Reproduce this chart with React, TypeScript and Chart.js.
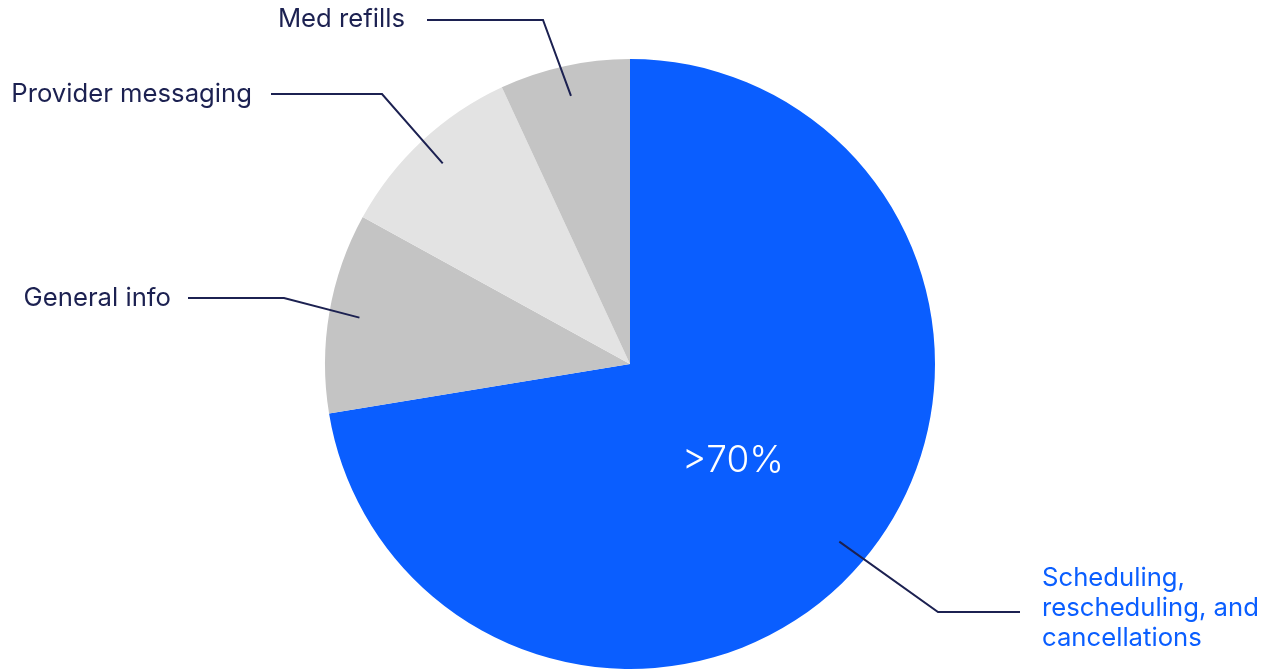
import React, { useEffect, useRef } from "react";
import { Chart, registerables } from "chart.js";

Chart.register(...registerables);

const categories = [
  "Scheduling, rescheduling, and cancellations",
  "General info",
  "Provider messaging",
  "Med refills",
];
const shares = [72.4, 10.6, 10.1, 6.9];
const centerLabel = ">70%";

const sliceColors = ["#0A5EFF", "#C4C4C4", "#E3E3E3", "#C4C4C4"];
const NAVY = "#1C2151";
const BLUE = "#0A5EFF";
const FONT = "Inter, 'DejaVu Sans', sans-serif";

// label layout: elbow point, line end point, text anchor, alignment, lines
const labelLayout = [
  { elbow: [938, 612], end: [1020, 612], text: [1042, 608], align: "left", lines: ["Scheduling,", "rescheduling, and", "cancellations"], color: BLUE },
  { elbow: [284, 298], end: [188, 298], text: [171, 298], align: "right", lines: ["General info"], color: NAVY },
  { elbow: [382, 94], end: [271, 94], text: [252, 94], align: "right", lines: ["Provider messaging"], color: NAVY },
  { elbow: [543, 20], end: [427, 20], text: [405, 19], align: "right", lines: ["Med refills"], color: NAVY },
];

const leaderPlugin = {
  id: "leaders",
  afterDraw(chart: any) {
    const ctx = chart.ctx;
    const meta = chart.getDatasetMeta(0);
    ctx.save();
    meta.data.forEach((arc: any, i: number) => {
      const p = arc.getProps(["x", "y", "startAngle", "endAngle", "outerRadius"], true);
      const mid = (p.startAngle + p.endAngle) / 2;
      const r = p.outerRadius * 0.9;
      const ax = p.x + Math.cos(mid) * r;
      const ay = p.y + Math.sin(mid) * r;
      const L = labelLayout[i];
      ctx.strokeStyle = NAVY;
      ctx.lineWidth = 2;
      ctx.beginPath();
      ctx.moveTo(ax, ay);
      ctx.lineTo(L.elbow[0], L.elbow[1]);
      ctx.lineTo(L.end[0], L.end[1]);
      ctx.stroke();
      ctx.fillStyle = L.color;
      ctx.font = `25.7px ${FONT}`;
      ctx.textAlign = L.align;
      ctx.textBaseline = "middle";
      const lh = 30;
      const n = L.lines.length;
      L.lines.forEach((t: string, k: number) => {
        ctx.fillText(t, L.text[0], L.text[1] + (k - (n - 1) / 2) * lh);
      });
      if (i === 0) {
        ctx.fillStyle = "#FFFFFF";
        ctx.font = `300 37px ${FONT}`;
        ctx.textAlign = "center";
        ctx.fillText(centerLabel, 733, 461);
      }
    });
    ctx.restore();
  },
};

export default function App() {
  const ref = useRef<HTMLCanvasElement | null>(null);
  useEffect(() => {
    if (!ref.current) return;
    const chart = new Chart(ref.current, {
      type: "pie",
      data: {
        labels: categories,
        datasets: [
          {
            data: shares,
            backgroundColor: sliceColors,
            borderWidth: 0,
          },
        ],
      },
      options: {
        animation: false,
        responsive: false,
        layout: { padding: { top: 59, bottom: 1, left: 0, right: 5 } },
        plugins: { legend: { display: false }, tooltip: { enabled: false } },
      },
      plugins: [leaderPlugin],
    });
    return () => chart.destroy();
  }, []);
  return (
    <div style={{ position: "absolute", left: 0, top: 0, width: 1265, height: 670, background: "#fff" }}>
      <canvas ref={ref} width={1265} height={670} style={{ display: "block" }} />
    </div>
  );
}
